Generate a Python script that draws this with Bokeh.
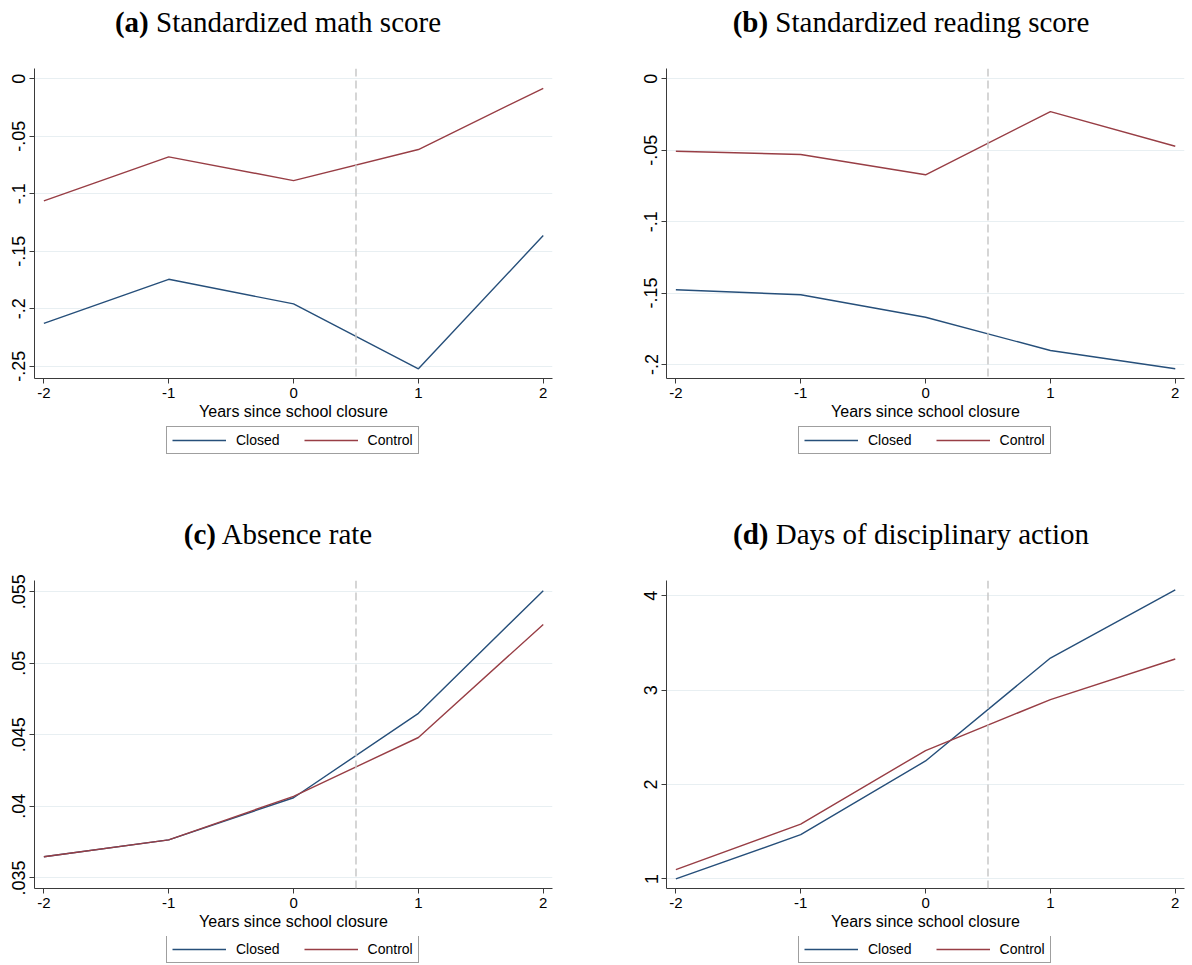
from bokeh.plotting import figure
from bokeh.models import Range1d, FixedTicker, Span, Legend, LegendItem, Div
from bokeh.layouts import column, row
from bokeh.embed import file_html
from bokeh.resources import INLINE

# ---------------- data ----------------
years = [-2, -1, 0, 1, 2]

math_closed = [-0.2127, -0.1744, -0.1958, -0.2523, -0.1363]
math_control = [-0.1062, -0.0679, -0.0885, -0.0615, -0.0082]

read_closed = [-0.1477, -0.1512, -0.1669, -0.1902, -0.2030]
read_control = [-0.0507, -0.0530, -0.0672, -0.0230, -0.0472]

abs_closed = [0.03648, 0.03766, 0.04060, 0.04650, 0.05507]
abs_control = [0.03648, 0.03766, 0.04070, 0.04481, 0.05271]

disc_closed = [1.000, 1.468, 2.250, 3.340, 4.063]
disc_control = [1.098, 1.581, 2.360, 2.900, 3.330]

math_ticks = [0, -0.05, -0.1, -0.15, -0.2, -0.25]
math_labels = ["0", "-.05", "-.1", "-.15", "-.2", "-.25"]
read_ticks = [0, -0.05, -0.1, -0.15, -0.2]
read_labels = ["0", "-.05", "-.1", "-.15", "-.2"]
abs_ticks = [0.035, 0.04, 0.045, 0.05, 0.055]
abs_labels = [".035", ".04", ".045", ".05", ".055"]
disc_ticks = [1, 2, 3, 4]
disc_labels = ["1", "2", "3", "4"]

x_ticks = [-2, -1, 0, 1, 2]
x_labels = ["-2", "-1", "0", "1", "2"]

titles = [("(a)", "Standardized math score"),
          ("(b)", "Standardized reading score"),
          ("(c)", "Absence rate"),
          ("(d)", "Days of disciplinary action")]
series_names = ["Closed", "Control"]
closure_x = 0.5

# ---------------- style ----------------
BLUE = "#264f7a"
RED = "#983e45"
AXIS = "#3a3a3a"
GRID = "#e8eff2"
SANS = "Liberation Sans"


def make_panel(tlabel, ttext, closed, control, yticks, ylabels, yrange,
               fig_w, border_right, frame_h, leg_fig_h, legend_y, div_w):
    div = Div(text="<b>%s</b> %s" % (tlabel, ttext), width=div_w, height=48,
              margin=0,
              styles={"font-family": "Liberation Serif", "font-size": "29px",
                      "text-align": "center", "line-height": "44px",
                      "color": "black"})
    border_bottom = 48
    p = figure(width=fig_w, height=20 + frame_h + border_bottom,
               output_backend="svg", toolbar_location=None,
               x_range=Range1d(-2.075, 2.074), y_range=Range1d(*yrange),
               min_border_left=34, min_border_right=border_right,
               min_border_top=20, min_border_bottom=border_bottom,
               margin=0)
    p.outline_line_color = None
    p.background_fill_color = "white"
    p.border_fill_color = "white"

    p.xgrid.visible = False
    p.ygrid.grid_line_color = GRID
    p.ygrid.grid_line_width = 1

    xa = p.xaxis[0]
    xa.ticker = FixedTicker(ticks=x_ticks)
    xa.major_label_overrides = {t: l for t, l in zip(x_ticks, x_labels)}
    xa.minor_tick_line_color = None
    xa.major_tick_in = 0
    xa.major_tick_out = 5
    xa.axis_line_color = AXIS
    xa.major_tick_line_color = AXIS
    xa.major_label_text_font = SANS
    xa.major_label_text_font_size = "15px"
    xa.major_label_text_color = "black"
    xa.major_label_standoff = 4
    xa.axis_label = "Years since school closure"
    xa.axis_label_text_font = SANS
    xa.axis_label_text_font_style = "normal"
    xa.axis_label_text_font_size = "16px"
    xa.axis_label_text_color = "black"
    xa.axis_label_standoff = 2

    ya = p.yaxis[0]
    ya.ticker = FixedTicker(ticks=yticks)
    ya.major_label_overrides = {t: l for t, l in zip(yticks, ylabels)}
    ya.minor_tick_line_color = None
    ya.major_tick_in = 0
    ya.major_tick_out = 5
    ya.axis_line_color = AXIS
    ya.major_tick_line_color = AXIS
    ya.major_label_text_font = SANS
    ya.major_label_text_font_size = "18px"
    ya.major_label_text_color = "black"
    ya.major_label_orientation = "vertical"
    ya.major_label_standoff = 4

    p.add_layout(Span(location=closure_x, dimension="height",
                      line_color="#c8c8c8", line_width=1.5, line_dash="8 4"))

    p.line(years, closed, line_color=BLUE, line_width=1.4)
    p.line(years, control, line_color=RED, line_width=1.4)

    # legend strip below the plot: its lines use the same data but lie
    # outside this strip's view, so only the legend keys show
    lf = figure(width=fig_w, height=leg_fig_h, output_backend="svg",
                toolbar_location=None, x_axis_type=None, y_axis_type=None,
                x_range=Range1d(-2, 2), y_range=Range1d(100, 101),
                min_border_left=0, min_border_right=0, min_border_top=0,
                min_border_bottom=0, margin=0)
    lf.outline_line_color = None
    lf.grid.visible = False
    k1 = lf.line(years, closed, line_color=BLUE, line_width=1.4)
    k2 = lf.line(years, control, line_color=RED, line_width=1.4)

    leg = Legend(items=[LegendItem(label=series_names[0], renderers=[k1]),
                        LegendItem(label=series_names[1], renderers=[k2])],
                 orientation="horizontal", location=(132, legend_y))
    leg.glyph_width = 54
    leg.glyph_height = 14
    leg.label_height = 14
    leg.label_standoff = 10
    leg.spacing = 24
    leg.padding = 5
    leg.margin = 0
    leg.border_line_color = "#404040"
    leg.border_line_width = 1
    leg.background_fill_color = "white"
    leg.background_fill_alpha = 1
    leg.label_text_font = SANS
    leg.label_text_font_size = "14px"
    leg.label_text_color = "black"
    lf.add_layout(leg)
    return column(div, p, lf, margin=0)


pa = make_panel(*titles[0], math_closed, math_control, math_ticks, math_labels,
                (-0.2607, 0.009), 632, 80, 310, 86, 58, 556)
pb = make_panel(*titles[1], read_closed, read_control, read_ticks, read_labels,
                (-0.2098, 0.0072), 560, 8, 310, 86, 58, 558)
pc = make_panel(*titles[2], abs_closed, abs_control, abs_ticks, abs_labels,
                (0.03426, 0.05578), 632, 80, 308, 28, 1, 556)
pd = make_panel(*titles[3], disc_closed, disc_control, disc_ticks, disc_labels,
                (0.898, 4.162), 560, 8, 308, 28, 1, 558)

layout = column(row(pa, pb, margin=0), row(pc, pd, margin=0), margin=0)

open("out.html", "w").write(file_html(layout, INLINE))
